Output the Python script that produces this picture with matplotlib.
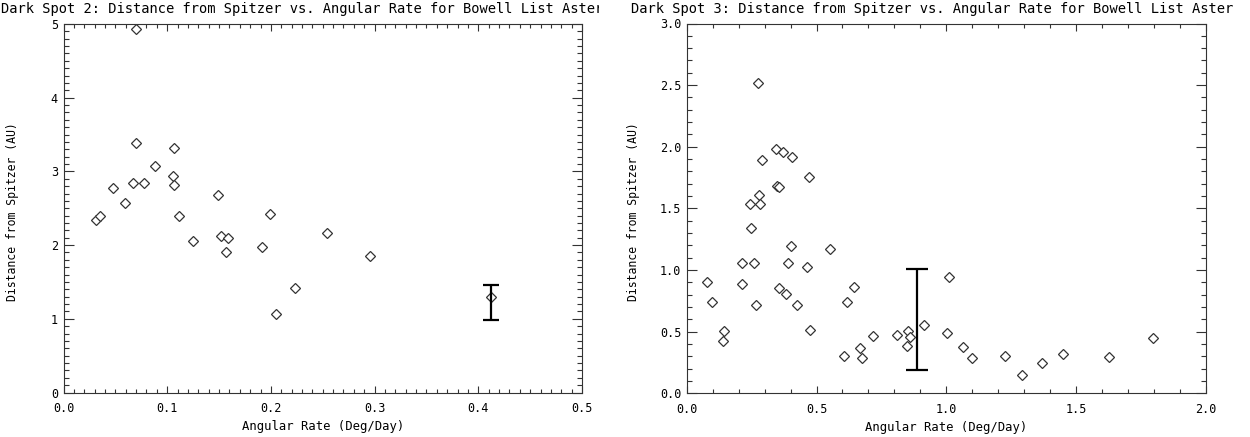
import matplotlib
matplotlib.use('Agg')
import matplotlib.pyplot as plt
from matplotlib.transforms import Bbox, TransformedBbox
from matplotlib.ticker import MultipleLocator, FormatStrFormatter

# Dark Spot 2 (left panel)
spot2_rate = [0.0696, 0.0696, 0.107, 0.088, 0.106, 0.067, 0.078, 0.107, 0.048, 0.149,
              0.059, 0.0316, 0.0355, 0.111, 0.1248, 0.1517, 0.1585, 0.157, 0.191, 0.1996,
              0.205, 0.223, 0.254, 0.2956, 0.412]
spot2_dist = [4.93, 3.38, 3.32, 3.07, 2.94, 2.84, 2.84, 2.81, 2.77, 2.68,
              2.57, 2.34, 2.40, 2.39, 2.05, 2.12, 2.10, 1.90, 1.98, 2.42,
              1.07, 1.42, 2.16, 1.85, 1.29]
spot2_err_x = [0.412]
spot2_err_lo = [0.98]
spot2_err_hi = [1.46]

# Dark Spot 3 (right panel)
spot3_rate = [0.273, 0.345, 0.369, 0.406, 0.291, 0.472, 0.349, 0.356, 0.278, 0.242,
              0.281, 0.247, 0.077, 0.096, 0.145, 0.141, 0.214, 0.213, 0.261, 0.267,
              0.356, 0.381, 0.391, 0.402, 0.425, 0.464, 0.474, 0.552, 0.605, 0.618,
              0.645, 0.668, 0.674, 0.719, 0.809, 0.852, 0.859, 0.847, 0.914, 1.010,
              1.001, 1.063, 1.097, 1.225, 1.292, 1.370, 1.450, 1.625, 1.796]
spot3_dist = [2.514, 1.979, 1.955, 1.919, 1.895, 1.754, 1.679, 1.673, 1.608, 1.533,
              1.538, 1.338, 0.900, 0.740, 0.505, 0.427, 1.057, 0.886, 1.057, 0.719,
              0.854, 0.805, 1.057, 1.195, 0.719, 1.027, 0.511, 1.168, 0.305, 0.738,
              0.865, 0.367, 0.284, 0.467, 0.469, 0.508, 0.454, 0.384, 0.551, 0.941,
              0.492, 0.376, 0.286, 0.300, 0.146, 0.246, 0.319, 0.294, 0.451]
spot3_err_x = [0.887]
spot3_err_lo = [0.189]
spot3_err_hi = [1.008]

TITLE_2 = 'Dark Spot 2: Distance from Spitzer vs. Angular Rate for Bowell List Asteroids'
TITLE_3 = 'Dark Spot 3: Distance from Spitzer vs. Angular Rate for Bowell List Asteroids'
X_LABEL = 'Angular Rate (Deg/Day)'
Y_LABEL = 'Distance from Spitzer (AU)'

W, H = 1250, 437
INK = '#333333'

plt.rcParams['font.family'] = 'DejaVu Sans Mono'
plt.rcParams['axes.linewidth'] = 0.8
plt.rcParams['axes.edgecolor'] = INK

fig = plt.figure(figsize=(W / 100, H / 100), dpi=100)


def px_axes(left, right, top, bottom):
    return fig.add_axes([left / W, (H - bottom) / H, (right - left) / W, (bottom - top) / H])


def style_axes(ax, xmax, ymax, xmajor, xminor, ymajor, yminor, yfmt, ylabel_x):
    ax.set_xlim(0, xmax)
    ax.set_ylim(0, ymax)
    ax.xaxis.set_major_locator(MultipleLocator(xmajor))
    ax.xaxis.set_minor_locator(MultipleLocator(xminor))
    ax.yaxis.set_major_locator(MultipleLocator(ymajor))
    ax.yaxis.set_minor_locator(MultipleLocator(yminor))
    ax.xaxis.set_major_formatter(FormatStrFormatter('%.1f'))
    ax.yaxis.set_major_formatter(FormatStrFormatter(yfmt))
    ax.tick_params(axis='both', which='both', direction='in', top=True, right=True,
                   color=INK, width=0.8, labelsize=8.5, labelcolor='black')
    ax.tick_params(axis='x', which='major', length=5.3, pad=7)
    ax.tick_params(axis='x', which='minor', length=2.7)
    ax.tick_params(axis='y', which='major', length=7.5, pad=4)
    ax.tick_params(axis='y', which='minor', length=3.8)
    ax.set_xlabel(X_LABEL, fontsize=8.8)
    ax.set_ylabel(Y_LABEL, fontsize=8.3)
    ax.xaxis.set_label_coords(0.5, -0.075)
    ax.yaxis.set_label_coords(ylabel_x, 0.49)


def draw_panel(ax, rate, dist, err_x, err_lo, err_hi, capsize):
    ax.plot(rate, dist, linestyle='none', marker='D', markersize=4.7,
            markerfacecolor='white', markeredgecolor=INK, markeredgewidth=0.9)
    centers = [(lo + hi) / 2 for lo, hi in zip(err_lo, err_hi)]
    halves = [(hi - lo) / 2 for lo, hi in zip(err_lo, err_hi)]
    ax.errorbar(err_x, centers, yerr=halves, fmt='none', ecolor='black',
                elinewidth=1.6, capsize=capsize, capthick=1.6)


def clipped_title(text, x_px, clip_left, clip_right):
    # the original plot windows cut the long titles off at their edges
    t = fig.text(x_px / W, 1 - 8.5 / H, text, fontsize=9.9, ha='left', va='center',
                 color='black')
    t.set_clip_box(TransformedBbox(Bbox([[clip_left / W, 0], [clip_right / W, 1]]),
                                   fig.transFigure))
    t.set_clip_on(True)


ax1 = px_axes(63.5, 582, 24, 392.5)
style_axes(ax1, 0.5, 5, 0.1, 0.01, 1, 0.1, '%d', -0.085)
draw_panel(ax1, spot2_rate, spot2_dist, spot2_err_x, spot2_err_lo, spot2_err_hi, 5.8)

ax2 = px_axes(686.7, 1206, 23.5, 393.3)
style_axes(ax2, 2.0, 3.0, 0.5, 0.1, 0.5, 0.1, '%.1f', -0.09)
draw_panel(ax2, spot3_rate, spot3_dist, spot3_err_x, spot3_err_lo, spot3_err_hi, 7.9)

clipped_title(TITLE_2, 1, 0, 599)
clipped_title(TITLE_3, 631, 622, 1234)

fig.savefig('out.png', dpi=100, facecolor='white')
